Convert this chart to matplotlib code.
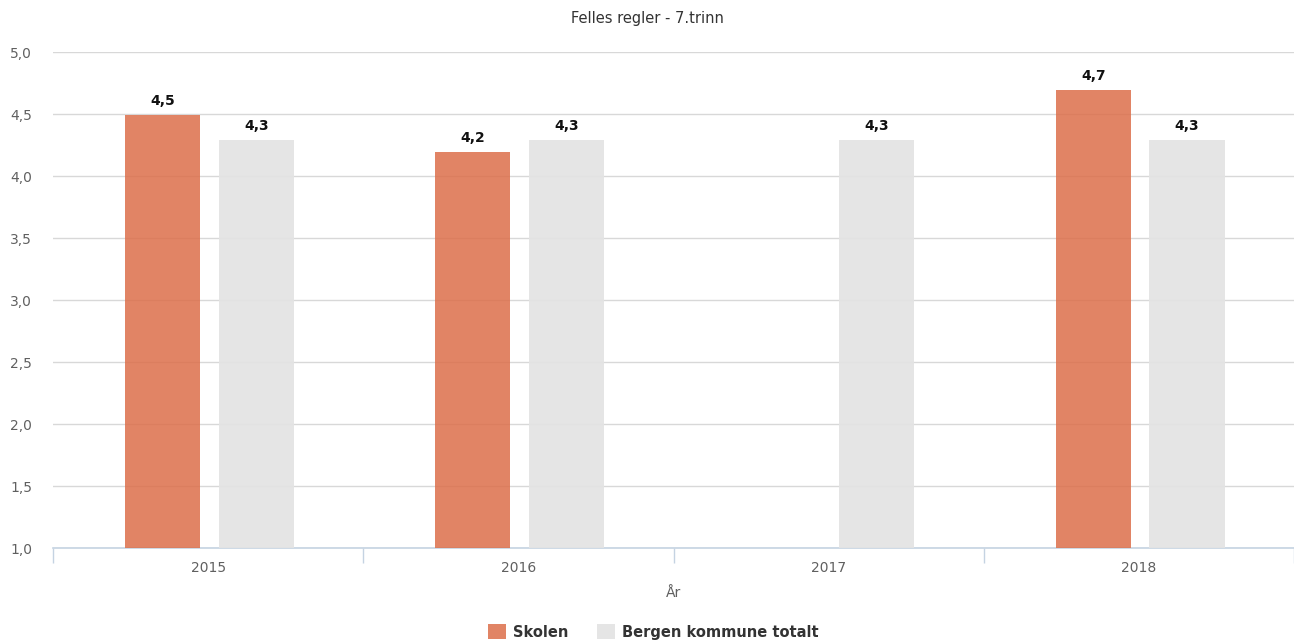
import numpy as np
import matplotlib.pyplot as plt
from matplotlib.ticker import FixedLocator, FuncFormatter

years = ['2015', '2016', '2017', '2018']
skolen = [4.49, 4.19, np.nan, 4.69]
bergen = [4.29, 4.29, 4.29, 4.29]
series_names = ['Skolen', 'Bergen kommune totalt']
title = 'Felles regler - 7.trinn'
xlabel = 'År'
yticks = [1.0, 1.5, 2.0, 2.5, 3.0, 3.5, 4.0, 4.5, 5.0]

orange = '#dc6f4a'
grey = '#e3e3e3'
text_grey = '#606060'

fig = plt.figure(figsize=(12.94, 6.41), dpi=100)
ax = fig.add_axes([53/1294, 1 - 548/641, 1 - 53/1294, (548 - 52)/641])

x = np.arange(len(years))
w = 0.242
ax.bar(x - 0.147, skolen, w, bottom=0, color=orange, alpha=0.85, zorder=3,
       label=series_names[0])
ax.bar(x + 0.155, bergen, w, bottom=0, color=grey, alpha=0.92, zorder=3,
       label=series_names[1])

for i in range(len(years)):
    if not np.isnan(skolen[i]):
        ax.text(x[i] - 0.147, skolen[i] + 0.06, ('%.1f' % skolen[i]).replace('.', ','),
                ha='center', va='bottom', fontsize=10, fontweight='bold', color='#111111')
    ax.text(x[i] + 0.155, bergen[i] + 0.06, ('%.1f' % bergen[i]).replace('.', ','),
            ha='center', va='bottom', fontsize=10, fontweight='bold', color='#111111')

ax.set_ylim(1.0, 5.0)
ax.set_xlim(-0.5, len(years) - 0.5)
ax.set_yticks(yticks)
ax.yaxis.set_major_formatter(FuncFormatter(lambda v, p: ('%.1f' % v).replace('.', ',')))
ax.grid(axis='y', color='#d8d8d8', linewidth=1, zorder=0)
ax.tick_params(axis='y', length=0, labelsize=10, labelcolor=text_grey, pad=15)

# category labels at centres, tick marks on the boundaries
ax.set_xticks(x)
ax.set_xticklabels(years)
ax.tick_params(axis='x', which='major', length=0, labelsize=10, labelcolor=text_grey, pad=9)
ax.xaxis.set_minor_locator(FixedLocator(np.arange(-0.5, len(years), 1.0)))
ax.tick_params(axis='x', which='minor', length=11, color='#c5d3e2', width=1)

for s in ['top', 'right', 'left']:
    ax.spines[s].set_visible(False)
ax.spines['bottom'].set_color('#c5d3e2')
ax.spines['bottom'].set_linewidth(1.2)

ax.set_xlabel(xlabel, fontsize=10, color=text_grey, labelpad=8)
fig.text(0.5, 1 - 18/641, title, ha='center', va='center', fontsize=10.5, color='#333333')

leg = fig.legend(loc='center', bbox_to_anchor=(0.505, 1 - 632/641), ncol=2, frameon=False,
                 fontsize=10.5, handlelength=1.2, handleheight=1.2, columnspacing=2.0,
                 handletextpad=0.5)
for t in leg.get_texts():
    t.set_fontweight('bold')
    t.set_color('#333333')

fig.savefig('out.png', dpi=100)
